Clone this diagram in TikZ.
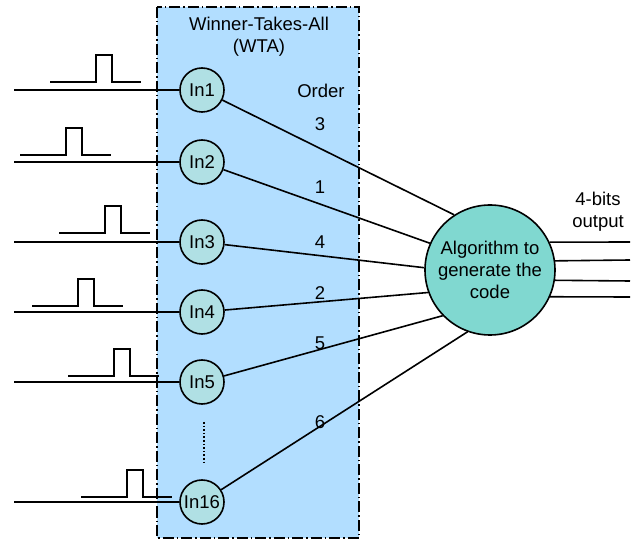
\documentclass[tikz,border=0pt]{standalone}
\usepackage{fontspec}
\setmainfont{Liberation Sans}
\definecolor{wtablue}{RGB}{178,222,255}
\definecolor{inteal}{RGB}{176,224,228}
\definecolor{algteal}{RGB}{128,216,208}
\tikzset{
	neuron/.style={draw,shape=circle,fill=inteal,line width=1.6pt,minimum size=44pt,inner sep=0pt},
	coder/.style={draw,shape=circle,fill=algteal,line width=1.6pt,minimum size=130pt,inner sep=0pt,align=center},
	ordtxt/.style={inner sep=0pt},
	wire/.style={line width=1.6pt}
}
\begin{document}
\begin{tikzpicture}[x=1pt,y=-1pt,font=\fontsize{18.5}{22}\selectfont]
	\useasboundingbox (0,0) rectangle (641,540);
	% WTA block
	\draw[fill=wtablue,line width=1.8pt,dash pattern=on 11pt off 3pt on 1.5pt off 3pt]
		(157,7) rectangle (359,538);
	\node[ordtxt,align=center] (title) at (259,37) {Winner-Takes-All\\(WTA)};
	% neurons
	\node[neuron] (in1) at (202,90) {In1};
	\node[neuron] (in2) at (202,162) {In2};
	\node[neuron] (in3) at (202,242) {In3};
	\node[neuron] (in4) at (202,312) {In4};
	\node[neuron] (in5) at (202,382) {In5};
	\node[neuron] (in16) at (202,502) {In16};
	\draw[line width=1.6pt,dotted] (204,422) -- (204,464);
	% coding block
	\node[coder] (algo) at (490,270) {Algorithm to\\generate the\\code};
	% input spikes
	\coordinate (src1) at (14,90);
	\coordinate (src2) at (14,162);
	\coordinate (src3) at (14,242);
	\coordinate (src4) at (14,312);
	\coordinate (src5) at (14,382);
	\coordinate (src16) at (14,502);
	\draw[wire]
	(src1) -- (in1)
	(src2) -- (in2)
	(src3) -- (in3)
	(src4) -- (in4)
	(src5) -- (in5)
	(src16) -- (in16);
	\foreach \x/\y in {50/82,20/155,59/233,32/306,68/376,81/497}
		\draw[wire] (\x,\y) -- ++(46,0) -- ++(0,-27) -- ++(16,0) -- ++(0,27) -- ++(29,0);
	% spike order
	\draw[wire]
	(in1) -- (algo.123)
	(in2) -- (algo.156)
	(in3) -- (algo.178)
	(in4) -- (algo.200)
	(in5) -- (algo.224)
	(in16) -- (algo.250);
	\node[ordtxt] (order) at (321,91) {Order};
	\node[ordtxt] (o3) at (320,124) {3};
	\node[ordtxt] (o1) at (320,187) {1};
	\node[ordtxt] (o4) at (320,242) {4};
	\node[ordtxt] (o2) at (320,293) {2};
	\node[ordtxt] (o5) at (320,343) {5};
	\node[ordtxt] (o6) at (320,422) {6};
	% output code
	\node[ordtxt,align=center] (outtxt) at (598,212) {4-bits\\output};
	\coordinate (bit1) at (630,242);
	\coordinate (bit2) at (630,260);
	\coordinate (bit3) at (630,281);
	\coordinate (bit4) at (630,297);
	\draw[wire]
	(algo.25.5) -- (bit1)
	(algo.8.8) -- (bit2)
	(algo.-9.7) -- (bit3)
	(algo.-24.5) -- (bit4);
\end{tikzpicture}
\end{document}
